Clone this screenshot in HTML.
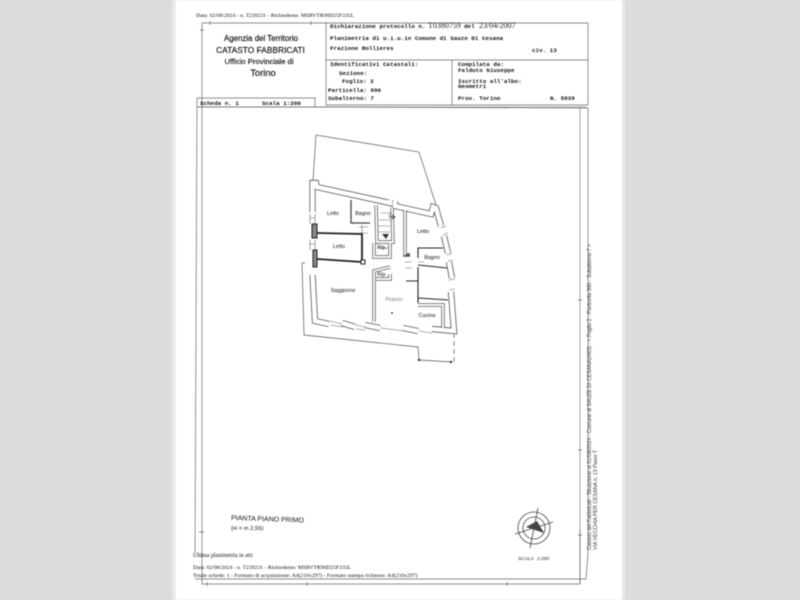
<!DOCTYPE html>
<html>
<head>
<meta charset="utf-8">
<style>
html,body{margin:0;padding:0;width:800px;height:600px;overflow:hidden;background:#dcdcdc}
svg{position:absolute;left:0;top:0;filter:blur(.45px)}
.m{font-family:"Liberation Mono",monospace;font-size:5.9px;fill:#111;font-weight:bold}
.s{font-family:"Liberation Serif",serif;font-size:5.67px;fill:#111}
.a{font-family:"Liberation Sans",sans-serif;fill:#111}
.r{font-family:"Liberation Sans",sans-serif;font-size:5.3px;fill:#333;text-anchor:middle}
</style>
</head>
<body>
<svg width="800" height="600" viewBox="0 0 800 600" xmlns="http://www.w3.org/2000/svg">
<rect x="172" y="0" width="4" height="600" fill="#ececec"/>
<rect x="622" y="0" width="3" height="600" fill="#e8e8e8"/>
<rect x="176" y="0" width="446" height="600" fill="#fff"/>

<!-- frames -->
<g fill="none" stroke="#666" stroke-width=".7">
<path d="M202 23H588V105"/>
<path d="M202 23V584H580V530"/>
<path d="M197 98H315V107H197M197 98L195 553"/>
<path d="M315 107L588 108V553L586 579H195"/>
<path d="M326 22V105H588M326 60H588M452 60V105"/>
<path d="M198 107H586" stroke-width=".5"/>
<path d="M580 108V584" stroke-width=".6"/>
<path d="M210 21V25M311 21V25M200 30H204M199 532H204M207 582V586M307 582V586M507 582V586M578 535H582M578 450H582M578 300H582"/>
</g>

<!-- header text -->
<text class="s" x="196" y="17">Data: 02/08/2024 - n. T239231 - Richiedente: MSRVTR90D25F335L</text>
<g class="a" text-anchor="middle" stroke="#111" stroke-width=".15">
<text x="261" y="41" font-size="7.9">Agenzia del Territorio</text>
<text x="260.5" y="53" font-size="8.4">CATASTO FABBRICATI</text>
<text x="259" y="64" font-size="7.7">Ufficio Provinciale di</text>
<text x="263" y="76" font-size="9.4">Torino</text>
</g>
<text class="m" x="330" y="28">Dichiarazione protocollo n.</text>
<text x="428" y="28" font-family="Liberation Serif,serif" font-size="8" fill="#222">T0380759</text>
<text class="m" x="464" y="28">del</text>
<text x="479" y="28" font-family="Liberation Serif,serif" font-size="8" fill="#222">23/04/2007</text>
<text class="m" x="330" y="40">Planimetria di u.i.u.in Comune di Sauze Di Cesana</text>
<text class="m" x="330" y="50">Frazione Rollieres</text>
<text class="m" x="532" y="52">civ. 13</text>
<text class="m" x="330" y="66">Identificativi Catastali:</text>
<text class="m" x="339" y="75">Sezione:</text>
<text class="m" x="342" y="83">Foglio: 2</text>
<text class="m" x="328" y="92">Particella: 990</text>
<text class="m" x="328" y="100">Subalterno: 7</text>
<text class="m" x="458" y="66">Compilata da:</text>
<text class="m" x="458" y="72">Falduto Giuseppe</text>
<text class="m" x="458" y="83">Iscritto all'albo:</text>
<text class="m" x="458" y="88">Geometri</text>
<text class="m" x="458" y="100">Prov. Torino</text>
<text class="m" x="550" y="100">N. 5939</text>
<text class="m" x="200" y="105">Scheda n. 1</text>
<text class="m" x="262" y="105">Scala 1:200</text>

<!-- plan thin outlines -->
<g fill="none" stroke="#555" stroke-width=".7">
<path d="M313 180L316 135L419 152L436 205"/>
<path d="M302 263H305M302 263L304 335L418 347L419 360L452 362"/>
<path d="M454 333V362" stroke-dasharray="5 3"/>
</g>
<circle cx="419" cy="360" r="1.2" fill="#333"/>
<circle cx="451" cy="362" r="1.2" fill="#333"/>

<!-- perimeter walls: double line -->
<g fill="none" stroke="#555" stroke-width="6.2" stroke-linejoin="miter">
<path d="M312.500 212V183H316L317 187L390 203V200"/>
<path d="M395 201V206L431 214L433 207L436 208L441 226"/>
<path d="M444 236L448 253M449 262L452 278M451 292L454 331L432 329"/>
<path d="M418 331L403 328M380 328L365 325M355 327L342 323M329 324L315 321L312.500 275"/>
</g>
<g fill="none" stroke="#fff" stroke-width="4.600">
<path d="M312.500 212V183H316L317 187L390 203V200"/>
<path d="M395 201V206L431 214L433 207L436 208L441 226"/>
<path d="M444 236L448 253M449 262L452 278M451 292L454 331L432 329"/>
<path d="M418 331L403 328M380 328L365 325M355 327L342 323M329 324L315 321L312.500 275"/>
</g>

<!-- interior walls -->
<g fill="none" stroke="#555" stroke-width="3.4">
<path d="M374 322V271L390 267"/>
<path d="M405 210V255H410"/>
<path d="M376 205L377 242H393L392 208"/>
<path d="M374 243V257H390V243"/>
<path d="M418 305H443V328"/>
<path d="M376 279H390V274"/>
</g>
<g fill="none" stroke="#fff" stroke-width="1.9">
<path d="M374 322V271L390 267"/>
<path d="M376 205L377 242H393L392 208"/>
<path d="M405 210V255"/>
<path d="M418 305H443V328"/>
<path d="M374 243V257H390V243"/>
<path d="M376 279H390V274"/>
</g>

<!-- heavy walls -->
<g fill="none" stroke="#222" stroke-width="1.8">
<path d="M317 233L362 234V262"/>
<path d="M317 259L362 262"/>
<path d="M351 200V223H370" stroke="#444" stroke-width="1.300"/>
<path d="M418 258V248H443M418 265L447 268M418 267V303M418 298L448 300M406 281H418" stroke-width="1.100"/>
</g>
<g fill="#fff" stroke="#222" stroke-width="1">
<rect x="312" y="224" width="5" height="14" fill="#888"/>
<rect x="313" y="250" width="4" height="17" fill="#888"/>
<rect x="361" y="260" width="4" height="4"/>
</g>

<!-- door/window tick marks -->
<g fill="none" stroke="#666" stroke-width=".6">
<path d="M310 214V224M315 214V224M310 240V250M315 240V250M310 218H315M310 244H315"/>
<path d="M330 321L342 324M331 325L343 327M356 325L365 327M356 329L365 330M381 328L403 331M419 331L432 333"/>
<path d="M441 228L446 226M443 235L448 233M447 255L452 253M448 261L453 260M449 280L455 279M449 290L455 289"/>
<path d="M359 227H368M359 233H368M362 225V233"/>
<path d="M405 262H412M405 268H412M418 262H424"/>
<path d="M381 213H392M379 220H390M379 226H390M379 232H390"/>
<path d="M378 248H388M391 214L388 216"/>
</g>
<path d="M382 234L386 239L389 234Z" fill="#333"/>
<path d="M389 217H394M392 215L395 217L392 219" fill="none" stroke="#333" stroke-width=".8"/>
<circle cx="392" cy="313" r=".9" fill="#222"/>

<!-- room labels -->
<g class="a" text-anchor="middle" font-size="5.4">
<text x="333" y="215">Letto</text>
<text x="363" y="215">Bagno</text>
<text x="339" y="248">Letto</text>
<text x="423" y="233">Letto</text>
<text x="382" y="249">Rip.</text>
<text x="432" y="259">Bagno</text>
<text x="382" y="276">Rip.</text>
<text x="343" y="292">Saggiorno</text>
<text x="394" y="301" fill="#777">Pranzo</text>
<text x="427" y="317">Cucina</text>
</g>

<!-- footer -->
<text class="a" x="231" y="520" font-size="7" transform="rotate(2 231 520)">PIANTA PIANO PRIMO</text>
<text class="a" x="231" y="530" font-size="5.8">(H = m 2,55)</text>
<text class="s" x="193" y="557" style="font-size:5.9px">Ultima planimetria in atti</text>
<text class="s" x="193" y="569">Data: 02/08/2024 - n. T239231 - Richiedente: MSRVTR90D25F335L</text>
<text class="s" x="193" y="577">Totale schede: 1 - Formato di acquisizione: A4(210x297) - Formato stampa richiesto: A4(210x297)</text>

<!-- compass -->
<g fill="none" stroke="#444" stroke-width=".8">
<circle cx="534" cy="528" r="16"/>
<circle cx="534" cy="528" r="11"/>
<path d="M515 534L553 522M538 508L530 548"/>
</g>
<path d="M526 527L537 521L544 533Z" fill="#444"/>
<text x="518" y="560" font-family="Liberation Sans,sans-serif" font-size="4.8" font-style="italic" fill="#222">SCALA</text>
<text x="537" y="560" font-family="Liberation Sans,sans-serif" font-size="4.8" font-style="italic" fill="#222">1:200</text>

<!-- vertical text -->
<text class="r" transform="translate(591 397) rotate(-90)" textLength="306">Catasto dei Fabbricati - Situazione al 01/08/2024 - Comune di SAUZE DI CESANA(I463) - &lt; Foglio 2 - Particella 990 - Subalterno 7 &gt;</text>
<text class="r" transform="translate(597 500) rotate(-90)" textLength="100">VIA VECCHIA PER CESANA n. 13 Piano T</text>
</svg>
</body>
</html>
